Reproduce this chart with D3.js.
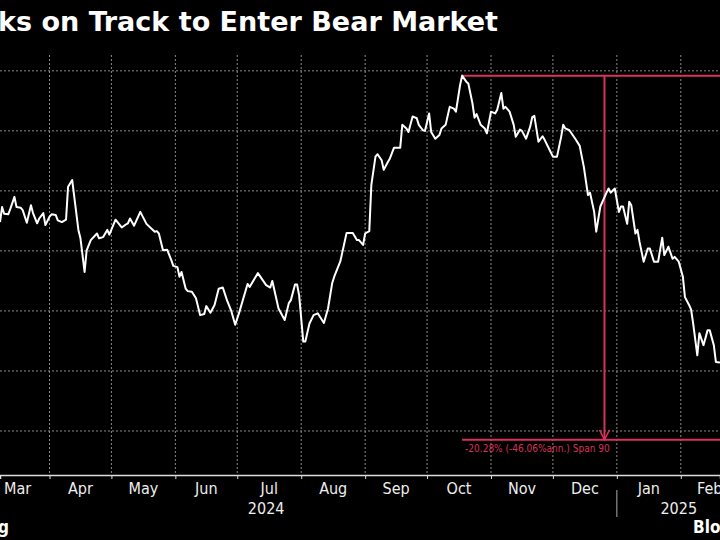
<!DOCTYPE html>
<html><head><meta charset="utf-8">
<script src="https://cdn.jsdelivr.net/npm/d3@7"></script>
<style>body{margin:0;background:#000}svg{display:block}</style>
</head><body><svg id="c" width="720" height="540"></svg>
<script>
const title = "ks on Track to Enter Bear Market";
const dates = ["2024-03-08","2024-03-09","2024-03-10","2024-03-12","2024-03-13","2024-03-15","2024-03-16","2024-03-18","2024-03-19","2024-03-21","2024-03-23","2024-03-24","2024-03-26","2024-03-27","2024-03-29","2024-03-30","2024-04-01","2024-04-02","2024-04-04","2024-04-05","2024-04-07","2024-04-09","2024-04-10","2024-04-12","2024-04-13","2024-04-15","2024-04-16","2024-04-18","2024-04-19","2024-04-21","2024-04-24","2024-04-25","2024-04-27","2024-04-29","2024-04-30","2024-05-03","2024-05-06","2024-05-08","2024-05-09","2024-05-10","2024-05-12","2024-05-15","2024-05-18","2024-05-22","2024-05-23","2024-05-24","2024-05-26","2024-05-28","2024-05-30","2024-05-31","2024-06-02","2024-06-03","2024-06-04","2024-06-06","2024-06-07","2024-06-09","2024-06-11","2024-06-13","2024-06-15","2024-06-16","2024-06-18","2024-06-20","2024-06-22","2024-06-24","2024-06-26","2024-06-28","2024-06-30","2024-07-02","2024-07-06","2024-07-07","2024-07-11","2024-07-15","2024-07-17","2024-07-18","2024-07-21","2024-07-24","2024-07-26","2024-07-27","2024-07-29","2024-07-30","2024-07-31","2024-08-02","2024-08-03","2024-08-05","2024-08-07","2024-08-09","2024-08-12","2024-08-14","2024-08-16","2024-08-17","2024-08-20","2024-08-23","2024-08-26","2024-08-28","2024-08-29","2024-08-31","2024-09-01","2024-09-03","2024-09-04","2024-09-06","2024-09-07","2024-09-09","2024-09-10","2024-09-12","2024-09-13","2024-09-15","2024-09-18","2024-09-19","2024-09-21","2024-09-22","2024-09-24","2024-09-26","2024-09-27","2024-09-29","2024-09-30","2024-10-02","2024-10-03","2024-10-05","2024-10-07","2024-10-08","2024-10-10","2024-10-12","2024-10-14","2024-10-15","2024-10-17","2024-10-18","2024-10-20","2024-10-21","2024-10-23","2024-10-24","2024-10-25","2024-10-27","2024-10-29","2024-10-30","2024-11-01","2024-11-03","2024-11-04","2024-11-06","2024-11-07","2024-11-08","2024-11-10","2024-11-12","2024-11-13","2024-11-15","2024-11-16","2024-11-18","2024-11-20","2024-11-21","2024-11-22","2024-11-24","2024-11-26","2024-11-27","2024-11-29","2024-12-01","2024-12-03","2024-12-05","2024-12-06","2024-12-07","2024-12-09","2024-12-10","2024-12-12","2024-12-14","2024-12-15","2024-12-16","2024-12-18","2024-12-19","2024-12-21","2024-12-22","2024-12-24","2024-12-27","2024-12-28","2024-12-29","2024-12-31","2025-01-02","2025-01-03","2025-01-04","2025-01-06","2025-01-07","2025-01-08","2025-01-10","2025-01-11","2025-01-12","2025-01-14","2025-01-16","2025-01-17","2025-01-19","2025-01-21","2025-01-23","2025-01-24","2025-01-26","2025-01-28","2025-01-29","2025-01-31","2025-02-02","2025-02-03","2025-02-05","2025-02-06","2025-02-07","2025-02-09","2025-02-10","2025-02-12","2025-02-14","2025-02-15","2025-02-17","2025-02-18","2025-02-20"];
const values = [274.8,277.3,276.2,276.1,277.0,279.0,277.3,277.2,276.8,274.7,277.6,276.3,274.6,275.4,276.3,274.3,275.7,276.1,276.0,275.1,274.8,275.2,280.7,281.8,279.0,273.5,272.1,266.5,270.1,271.8,272.9,272.1,272.3,273.5,272.7,275.2,273.9,274.4,274.6,275.4,274.2,276.5,274.5,273.2,273.3,272.9,270.1,270.2,268.5,267.5,267.3,265.7,266.5,263.7,263.3,263.2,262.1,259.3,259.5,260.8,259.7,261.0,263.7,263.9,261.8,260.1,257.7,259.8,264.5,264.0,266.3,264.3,263.9,265.0,260.4,258.5,261.3,261.8,264.4,264.4,262.6,254.9,254.9,257.9,259.3,259.6,258.0,260.4,264.6,265.7,268.3,273.0,273.0,271.8,271.8,271.0,272.9,273.3,281.0,285.7,286.1,285.1,283.5,284.8,285.4,287.2,287.2,291.0,290.4,289.8,292.4,292.1,291.0,290.1,290.0,292.9,289.8,288.7,289.3,290.4,291.0,294.0,293.7,293.2,297.6,299.2,298.2,297.9,294.6,292.2,292.8,291.0,290.4,289.6,293.2,292.9,293.5,296.3,293.7,294.0,293.2,291.0,289.0,290.2,290.0,288.7,290.7,292.3,292.5,288.2,289.1,288.5,287.1,285.7,285.7,289.0,291.0,290.4,290.1,289.6,288.6,287.5,285.7,284.0,279.3,279.7,276.5,273.2,277.4,279.7,280.4,279.7,280.4,276.5,277.4,277.4,274.5,278.2,277.6,272.9,273.5,271.5,268.2,270.4,270.4,268.2,268.2,272.2,269.3,270.7,268.7,269.0,268.2,265.7,262.3,261.0,260.2,257.9,252.6,256.3,254.3,256.8,256.8,254.3,251.5,251.4];
const gridValues = [300,290,280,270,260,250,240];
const monthTicks = ["2024-03-01","2024-04-01","2024-05-01","2024-06-01","2024-07-01","2024-08-01","2024-09-01","2024-10-01","2024-11-01","2024-12-01","2025-01-01","2025-02-01","2025-03-01"];
const peakDate = "2024-10-18", peakValue = 299.2, drawdown = -20.28, endMarkDate = "2024-12-26";
const annotText = "-20.28% (-46.06%ann.) Span 90";

const P = d3.timeParse("%Y-%m-%d");
const svg = d3.select("#c");
svg.append("rect").attr("width",720).attr("height",540).attr("fill","#000");
const x = d3.scaleTime().domain([P("2024-03-08"), P("2025-02-20")]).range([0,720]);
const y = d3.scaleLinear().domain([232.5, 311.8]).range([476, 0]);
const gridTop = 55, axisY = 475;
const FF = "DejaVu Sans Condensed, DejaVu Sans";

svg.append("g").selectAll("line").data(gridValues).join("line")
  .attr("x1",0).attr("x2",720).attr("y1",d=>y(d)).attr("y2",d=>y(d))
  .attr("stroke","#8a8a8a").attr("stroke-width",1).attr("stroke-dasharray","2,2");
svg.append("g").selectAll("line").data(monthTicks.map(P)).join("line")
  .attr("x1",d=>x(d)).attr("x2",d=>x(d)).attr("y1",gridTop).attr("y2",axisY)
  .attr("stroke","#8a8a8a").attr("stroke-width",1).attr("stroke-dasharray","2,2");

const ax = svg.append("g").attr("transform",`translate(0,${axisY})`)
  .call(d3.axisBottom(x).tickValues(monthTicks.map(P)).tickSize(4).tickFormat(""));
ax.select(".domain").attr("stroke","#ddd").attr("stroke-width",1.5);
ax.selectAll(".tick line").attr("stroke","#ddd");
const mid = monthTicks.slice(0,-1).map((m,i)=>new Date((P(m).getTime()+P(monthTicks[i+1]).getTime())/2));
svg.append("g").selectAll("text").data(mid).join("text")
  .attr("x",d=>x(d)).attr("y",494).attr("text-anchor","middle")
  .attr("fill","#eee").attr("font-family",FF).attr("font-size",16)
  .text(d=>d3.timeFormat("%b")(d));
svg.append("text").attr("x",x(P("2024-07-15"))).attr("y",514).attr("text-anchor","middle")
  .attr("fill","#eee").attr("font-family",FF).attr("font-size",16).text("2024");
svg.append("text").attr("x",x(P("2025-01-31"))).attr("y",514).attr("text-anchor","middle")
  .attr("fill","#eee").attr("font-family",FF).attr("font-size",16).text("2025");
svg.append("line").attr("x1",x(P("2025-01-01"))).attr("x2",x(P("2025-01-01"))).attr("y1",490).attr("y2",517)
  .attr("stroke","#aaa").attr("stroke-width",1);

const red = "#d8325a";
const trough = peakValue*(1+drawdown/100);
const xp = x(P(peakDate)), xe = x(P(endMarkDate));
svg.append("line").attr("x1",xp).attr("x2",720).attr("y1",y(peakValue)).attr("y2",y(peakValue)).attr("stroke",red).attr("stroke-width",2);
svg.append("line").attr("x1",xp).attr("x2",720).attr("y1",y(trough)).attr("y2",y(trough)).attr("stroke",red).attr("stroke-width",2);
svg.append("line").attr("x1",xe).attr("x2",xe).attr("y1",y(peakValue)).attr("y2",y(trough)).attr("stroke",red).attr("stroke-width",2);
svg.append("path").attr("d",`M${xe-5},${y(trough)-10}L${xe},${y(trough)}L${xe+5},${y(trough)-10}`)
  .attr("fill","none").attr("stroke",red).attr("stroke-width",1.5);
svg.append("text").attr("x",xp+3).attr("y",y(trough)+12).attr("fill",red)
  .attr("font-family",FF).attr("font-size",10).text(annotText);

svg.append("path").datum(dates.map((d,i)=>({d:P(d),v:values[i]})))
  .attr("d",d3.line().x(p=>x(p.d)).y(p=>y(p.v)))
  .attr("fill","none").attr("stroke","#fff").attr("stroke-width",2).attr("stroke-linejoin","round");

svg.append("text").attr("x",-2).attr("y",31).attr("fill","#fff").attr("font-weight","bold")
  .attr("font-family",FF).attr("font-size",27)
  .attr("textLength",500).attr("lengthAdjust","spacingAndGlyphs").text(title);
svg.append("text").attr("x",-2).attr("y",533).attr("fill","#fff").attr("font-weight","bold")
  .attr("font-family",FF).attr("font-size",17).text("g");
svg.append("text").attr("x",693).attr("y",533).attr("fill","#fff").attr("font-weight","bold")
  .attr("font-family",FF).attr("font-size",17).text("Bloomberg");
</script></body></html>
